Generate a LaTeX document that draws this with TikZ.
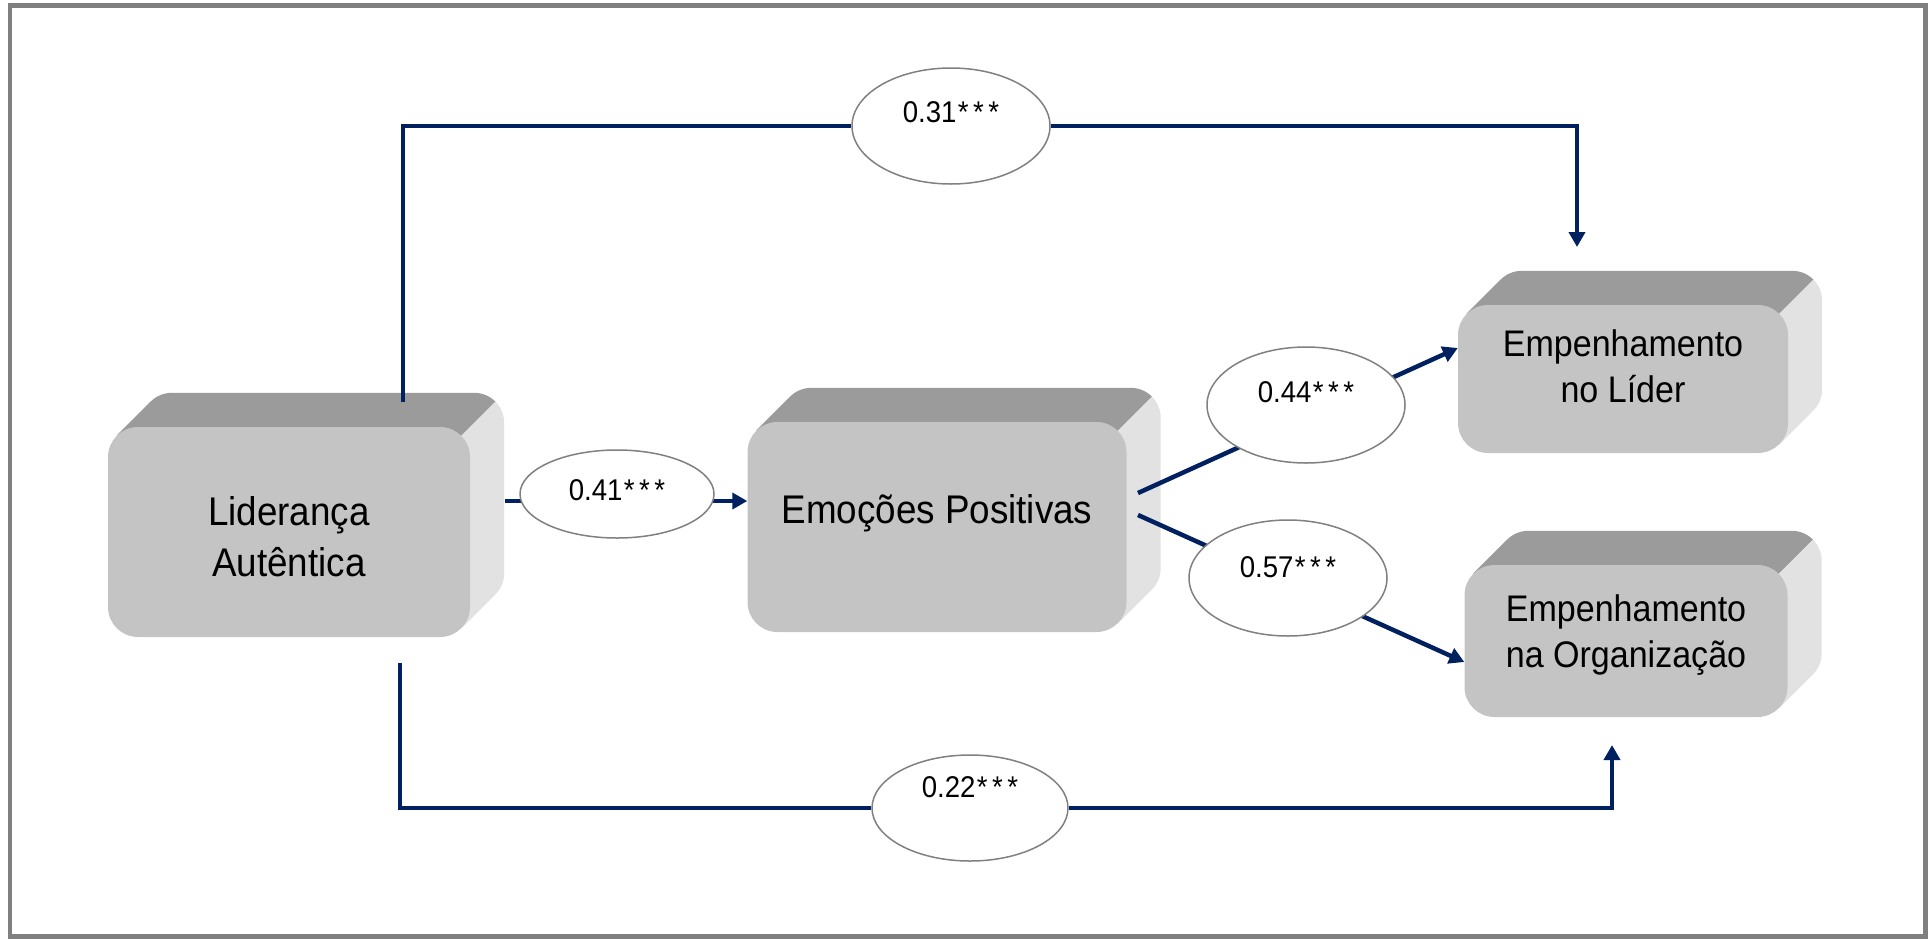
\documentclass[tikz,border=0pt]{standalone}
\usepackage{fontspec}
\setmainfont{Liberation Sans}[FakeStretch=0.92]
\usetikzlibrary{shapes.geometric,arrows.meta,calc}

\definecolor{navy}{RGB}{0,32,96}
\definecolor{facegray}{RGB}{196,196,196}
\definecolor{topgray}{RGB}{155,155,155}
\definecolor{sidegray}{RGB}{226,226,226}
\definecolor{ringgray}{RGB}{128,128,128}

\pgfdeclarelayer{back}
\pgfdeclarelayer{wire}
\pgfsetlayers{back,wire,main}

% text with its last baseline #1 below/above the node centre
\newcommand\lifted[2]{\raisebox{#1}[0pt][0pt]{\begin{tabular}[b]{@{}c@{}}#2\end{tabular}}}
\newcommand\stars{\kern1.5pt*\kern4.5pt*\kern4.5pt*}

\begin{document}
\begin{tikzpicture}[
    x=1pt,y=1pt,
    front/.style={rounded corners=30pt,fill=facegray,inner sep=0pt},
    big/.style={front,font=\fontsize{40}{51}\selectfont},
    small/.style={front,font=\fontsize{37}{46}\selectfont},
    coef/.style={ellipse,draw=ringgray,line width=1.5pt,fill=white,inner sep=0pt,
      minimum width=198pt,minimum height=116pt,font=\fontsize{30}{30}\selectfont},
    link/.style={draw=navy,line width=4.5pt},
    tip/.style={link,-{Triangle[width=16pt,length=15pt]}}
  ]
  \useasboundingbox (0,0) rectangle (1932,-938);
  \draw[ringgray,line width=4.5pt] (10,-5.5) rectangle (1925.5,-936.5);

  % front faces
  \node (lider) [big,minimum width=362pt,minimum height=210pt] at (289,-532)
    {\lifted{-44pt}{Liderança\\Autêntica}};
  \node (emocoes) [big,minimum width=379pt,minimum height=210pt] at (937,-527)
    {\lifted{4pt}{Emoções Positivas}};
  \node (empLider) [small,minimum width=330pt,minimum height=148pt] at (1623,-379)
    {\lifted{-23pt}{Empenhamento\\no Líder}};
  \node (empOrg) [small,minimum width=323pt,minimum height=152pt] at (1626,-641)
    {\lifted{-26pt}{Empenhamento\\na Organização}};

  % extruded top and side faces
  \begin{pgfonlayer}{back}
    \foreach \b in {lider,emocoes,empLider,empOrg} {
      \fill[topgray] ($(\b.north west)+(8.8,-8.8)$) -- ++(34,34)
        arc[start angle=135,end angle=90,radius=30pt]
        -- ($(\b.north east)+(4,34)$)
        arc[start angle=90,end angle=45,radius=30pt]
        -- ($(\b.north east)+(-8.8,-8.8)$) -- cycle;
      \fill[sidegray] ($(\b.north east)+(-8.8,-8.8)$) -- ++(34,34)
        arc[start angle=45,end angle=0,radius=30pt]
        -- ($(\b.south east)+(34,64)$)
        arc[start angle=0,end angle=-45,radius=30pt]
        -- ($(\b.south east)+(-8.8,8.8)$) -- cycle;
    }
  \end{pgfonlayer}

  % path coefficients
  \node (c31) [coef] at (951,-126) {\lifted{4pt}{0.31\stars}};
  \node (c41) [coef,minimum width=194pt,minimum height=88pt] at (617,-494) {\lifted{-6pt}{0.41\stars}};
  \node (c44) [coef] at (1306,-405) {\lifted{3pt}{0.44\stars}};
  \node (c57) [coef] at (1288,-578) {\lifted{1pt}{0.57\stars}};
  \node (c22) [coef,minimum width=196pt,minimum height=106pt] at (970,-808) {\lifted{11pt}{0.22\stars}};

  \coordinate (liderUp) at (403,-402);
  \coordinate (liderDown) at (400,-663);
  \coordinate (liderOut) at (505,-501);
  \coordinate (emoUp) at (1138,-493);
  \coordinate (emoDown) at (1138,-515);
  \coordinate (lidIn) at (1577,-247);
  \coordinate (orgIn) at (1612,-745);

  \begin{pgfonlayer}{wire}
    \draw[tip] (liderUp) |- (c31) -| (lidIn);
    \draw[tip] (liderDown) |- (c22) -| (orgIn);
    \draw[tip] (liderOut) -- (liderOut -| emocoes.west);
    \draw[tip] (emoUp) -- ([yshift=31pt]empLider.west);
    \draw[tip] (emoDown) -- ([yshift=-21pt]empOrg.west);
  \end{pgfonlayer}
\end{tikzpicture}
\end{document}
